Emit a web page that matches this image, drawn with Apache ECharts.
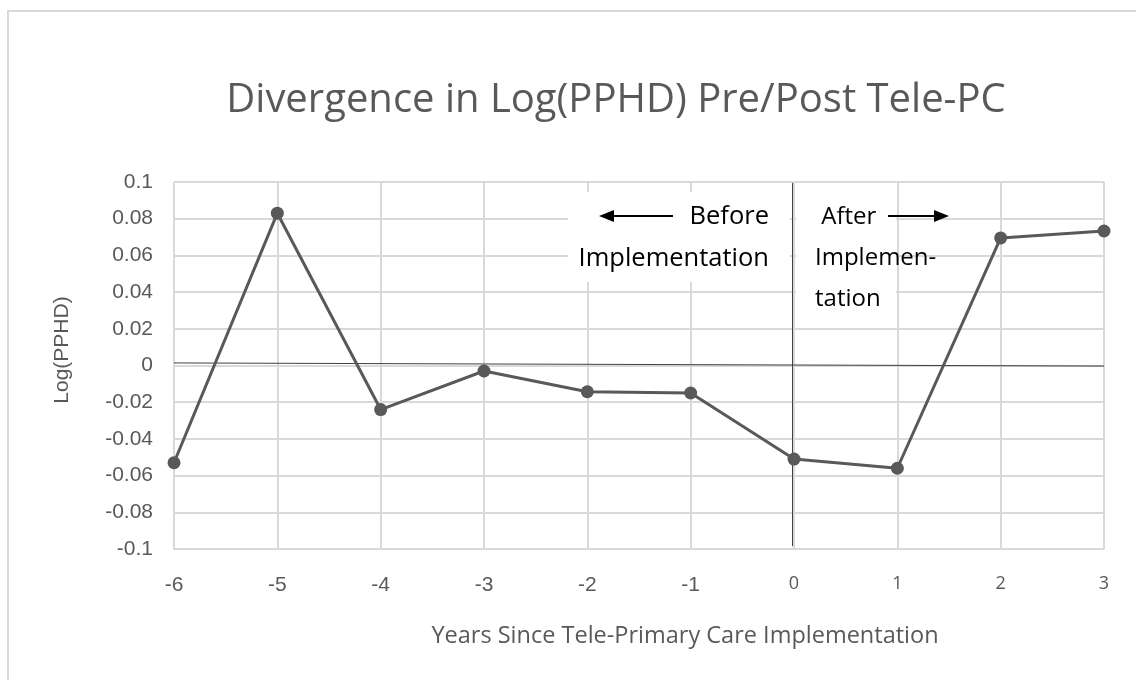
<!DOCTYPE html>
<html>
<head>
<meta charset="utf-8">
<script src="https://cdn.jsdelivr.net/npm/echarts@6/dist/echarts.min.js"></script>
<style>
  html, body { margin: 0; padding: 0; background: #fff; }
  #main { width: 1136px; height: 680px; }
</style>
</head>
<body>
<div id="main"></div>
<script>
// years since implementation
var years = [-6, -5, -4, -3, -2, -1, 0, 1, 2, 3];
// divergence in log(PPHD)
var logPPHD = [-0.053, 0.083, -0.024, -0.003, -0.0143, -0.015, -0.051, -0.056, 0.0695, 0.0733];
var yTicks = { min: -0.1, max: 0.1, step: 0.02 };

var points = years.map(function (x, i) { return [x, logPPHD[i]]; });

var myChart = echarts.init(document.getElementById('main'));
var grey = '#595959';

var option = {
    backgroundColor: '#fff',
    animation: false,
    title: {
        text: 'Divergence in Log(PPHD) Pre/Post Tele-PC',
        left: 611,
        textAlign: 'center',
        top: 76,
        textStyle: {
            fontFamily: 'Open Sans',
            fontWeight: 'normal',
            fontSize: 40,
            color: grey
        }
    },
    grid: {
        left: 174,
        right: 32,
        top: 182,
        bottom: 131
    },
    xAxis: {
        type: 'value',
        min: -6,
        max: 3,
        interval: 1,
        axisLine: { onZero: false, lineStyle: { color: '#d9d9d9', width: 2 } },
        axisTick: { show: false },
        axisLabel: {
            margin: 26,
            formatter: function (v) {
                return v < 0 ? '{neg|' + v + '}' : '{pos|' + v + '}';
            },
            rich: {
                neg: { fontFamily: 'Liberation Sans', fontSize: 21, color: grey },
                pos: { fontFamily: 'Open Sans', fontSize: 18, color: grey }
            }
        },
        splitLine: { show: true, lineStyle: { color: '#d9d9d9', width: 2 } }
    },
    yAxis: {
        type: 'value',
        min: yTicks.min,
        max: yTicks.max,
        interval: yTicks.step,
        axisLine: { show: false },
        axisTick: { show: false },
        axisLabel: {
            margin: 21,
            fontFamily: 'Liberation Sans',
            fontSize: 21,
            color: grey,
            formatter: function (v) { return String(Math.round(v * 100) / 100); }
        },
        splitLine: { lineStyle: { color: '#d9d9d9', width: 2 } }
    },
    series: [{
        type: 'line',
        data: points,
        symbol: 'circle',
        symbolSize: 13,
        lineStyle: { color: grey, width: 3 },
        itemStyle: { color: grey },
        z: 5,
        markLine: {
            silent: true,
            symbol: 'none',
            label: { show: false },
            lineStyle: { color: '#404040', width: 1, type: 'solid' },
            data: [
                [{ coord: [-6, 0.0014] }, { coord: [3, -0.0003] }],
                [{ coord: [-0.02, 0.0995] }, { coord: [-0.02, -0.0985] }]
            ]
        }
    }],
    graphic: [
        {
            type: 'rect',
            shape: { x: 8, y: 11, width: 1200, height: 800 },
            style: { fill: 'none', stroke: '#d9d9d9', lineWidth: 2 },
            silent: true
        },
        {
            type: 'text',
            x: 62, y: 350,
            rotation: Math.PI / 2,
            style: {
                text: 'Log(PPHD)',
                align: 'center', verticalAlign: 'middle',
                fontFamily: 'Liberation Sans', fontSize: 21, fill: grey
            }
        },
        {
            type: 'text',
            x: 685, y: 636,
            style: {
                text: 'Years Since Tele-Primary Care Implementation',
                align: 'center', verticalAlign: 'middle',
                fontFamily: 'Open Sans', fontSize: 23.5, fill: grey
            }
        },
        {
            type: 'rect',
            shape: { x: 568, y: 192, width: 222, height: 90 },
            style: { fill: '#fff' },
            z: 10
        },
        {
            type: 'rect',
            shape: { x: 796, y: 192, width: 100, height: 130 },
            style: { fill: '#fff' },
            z: 10
        },
        {
            type: 'text',
            x: 769, y: 196,
            style: {
                text: 'Before\nImplementation',
                align: 'right', verticalAlign: 'top',
                fontFamily: 'Open Sans', fontSize: 25.5, lineHeight: 42,
                fill: '#000'
            },
            z: 11
        },
        {
            type: 'text',
            x: 815, y: 197,
            style: {
                text: ' After\nImplemen-\ntation',
                align: 'left', verticalAlign: 'top',
                fontFamily: 'Open Sans', fontSize: 24, lineHeight: 41,
                fill: '#000'
            },
            z: 11
        },
        {
            type: 'line',
            shape: { x1: 612, y1: 216, x2: 673, y2: 216 },
            style: { stroke: '#000', lineWidth: 2 },
            z: 11
        },
        {
            type: 'polygon',
            shape: { points: [[599, 216], [614, 210], [614, 222]] },
            style: { fill: '#000' },
            z: 11
        },
        {
            type: 'line',
            shape: { x1: 888, y1: 216, x2: 936, y2: 216 },
            style: { stroke: '#000', lineWidth: 2 },
            z: 11
        },
        {
            type: 'polygon',
            shape: { points: [[949, 216], [934, 210], [934, 222]] },
            style: { fill: '#000' },
            z: 11
        }
    ]
};

myChart.setOption(option);
</script>
</body>
</html>
